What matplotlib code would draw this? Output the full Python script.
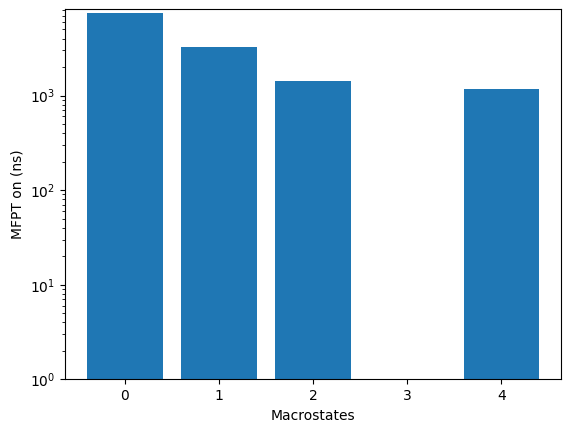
import matplotlib
matplotlib.use("Agg")
import matplotlib.pyplot as plt

# -------------------------- data -------------------------------------------
macrostates = [0, 1, 2, 3, 4]
mfpt_on = [7500, 3275, 1440, 0, 1180]

# -------------------------- plot -------------------------------------------
fig, ax = plt.subplots(figsize=(5.7, 4.32), dpi=100)
ax.bar(macrostates, mfpt_on)
ax.set_yscale("log")
ax.set_ylim(1, 8200)
ax.set_xlabel("Macrostates")
ax.set_ylabel("MFPT on (ns)")
fig.subplots_adjust(left=0.1135, right=0.985, bottom=0.122, top=0.979)
fig.savefig("out.png")
